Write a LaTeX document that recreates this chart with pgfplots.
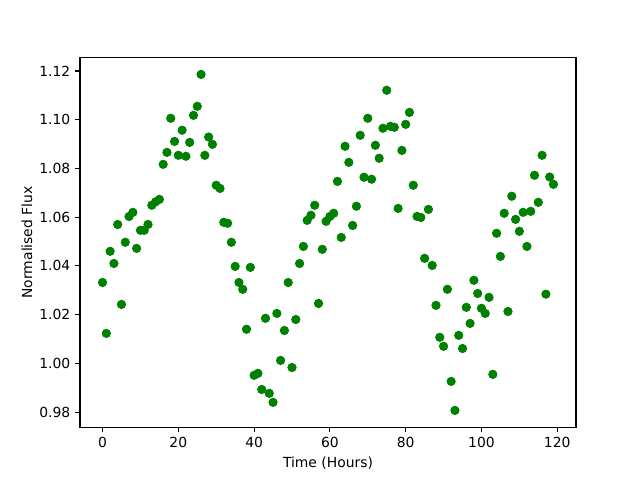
\documentclass[border=0pt]{standalone}
\usepackage{pgfplots}
\pgfplotsset{compat=1.18}
\usepackage{fontspec}
\setmainfont{DejaVu Sans}
\definecolor{mplgreen}{HTML}{008000}
\begin{document}
\fontsize{10pt}{12pt}\selectfont
\begin{tikzpicture}
\path[use as bounding box] (0,0) rectangle (460.8pt,345.6pt);
\begin{axis}[
  at={(57.6pt,38.016pt)}, anchor=south west,
  scale only axis, width=357.12pt, height=266.11pt,
  xmin=-5.95, xmax=124.95, ymin=0.9738, ymax=1.1255,
  xtick={0,20,40,60,80,100,120},
  xticklabels={0,20,40,60,80,100,120},
  ytick={0.98,1.00,1.02,1.04,1.06,1.08,1.10,1.12},
  yticklabels={0.98,1.00,1.02,1.04,1.06,1.08,1.10,1.12},
  tick pos=left, tick align=outside,
  major tick length=3.5pt,
  every tick/.style={black, line width=0.8pt},
  axis line style={line width=0.8pt},
  ticklabel style={font=\fontsize{10pt}{12pt}\selectfont},
  xlabel={Time (Hours)}, ylabel={Normalised Flux},
  label style={font=\fontsize{10pt}{12pt}\selectfont},
  xlabel style={at={(axis description cs:0.5,-0.097)}, anchor=center},
  ylabel style={at={(axis description cs:-0.107,0.5)}, anchor=center},
  /pgf/number format/assume math mode=true,
]
\addplot[only marks, mark=*, mark size=3pt, color=mplgreen, mark options={fill=mplgreen, draw=mplgreen, line width=0.6pt}] coordinates {
(0,1.0332) (1,1.0123) (2,1.0460) (3,1.0410) (4,1.0570) (5,1.0242) (6,1.0497) (7,1.0603) (8,1.0620) (9,1.0472)
(10,1.0546) (11,1.0546) (12,1.0570) (13,1.0649) (14,1.0663) (15,1.0673) (16,1.0817) (17,1.0866) (18,1.1006) (19,1.0911)
(20,1.0854) (21,1.0957) (22,1.0850) (23,1.0907) (24,1.1018) (25,1.1055) (26,1.1186) (27,1.0854) (28,1.0929) (29,1.0899)
(30,1.0731) (31,1.0718) (32,1.0579) (33,1.0575) (34,1.0497) (35,1.0398) (36,1.0332) (37,1.0304) (38,1.0140) (39,1.0394)
(40,0.9951) (41,0.9959) (42,0.9893) (43,1.0185) (44,0.9877) (45,0.9840) (46,1.0205) (47,1.0012) (48,1.0135) (49,1.0332)
(50,0.9983) (51,1.0180) (52,1.0410) (53,1.0480) (54,1.0587) (55,1.0608) (56,1.0649) (57,1.0246) (58,1.0468) (59,1.0583)
(60,1.0603) (61,1.0616) (62,1.0747) (63,1.0517) (64,1.0891) (65,1.0825) (66,1.0566) (67,1.0645) (68,1.0936) (69,1.0764)
(70,1.1006) (71,1.0756) (72,1.0895) (73,1.0842) (74,1.0965) (75,1.1121) (76,1.0973) (77,1.0969) (78,1.0636) (79,1.0874)
(80,1.0981) (81,1.1030) (82,1.0731) (83,1.0603) (84,1.0599) (85,1.0431) (86,1.0632) (87,1.0402) (88,1.0238) (89,1.0107)
(90,1.0070) (91,1.0304) (92,0.9926) (93,0.9807) (94,1.0115) (95,1.0061) (96,1.0230) (97,1.0164) (98,1.0341) (99,1.0287)
(100,1.0226) (101,1.0205) (102,1.0271) (103,0.9955) (104,1.0534) (105,1.0439) (106,1.0616) (107,1.0213) (108,1.0686) (109,1.0591)
(110,1.0542) (111,1.0620) (112,1.0480) (113,1.0624) (114,1.0772) (115,1.0661) (116,1.0854) (117,1.0284) (118,1.0765) (119,1.0735)
};
\end{axis}
\end{tikzpicture}
\end{document}
